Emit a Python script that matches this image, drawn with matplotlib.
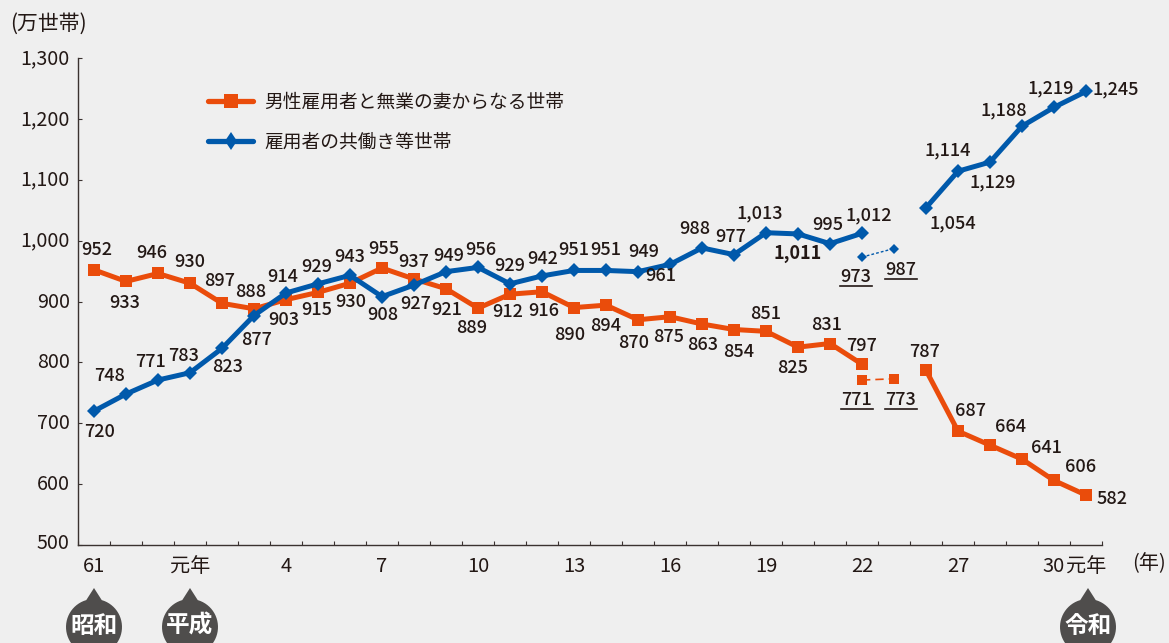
import matplotlib
matplotlib.use("Agg")
import numpy as np
import matplotlib.pyplot as plt
from matplotlib.lines import Line2D
from matplotlib.patches import PathPatch
from matplotlib.path import Path
from matplotlib.transforms import ScaledTranslation

plt.rcParams['font.family'] = ['Noto Sans CJK JP', 'DejaVu Sans']

W, H = 1169, 643
BG = '#efefef'; ORANGE = '#ea4c0b'; BLUE = '#0059ab'; INK = '#231815'

# Data: index = position on the (broken) year axis
male_x1 = list(range(0, 25))
male_v1 = [952,933,946,930,897,888,903,915,930,955,937,921,889,912,916,890,894,870,875,863,854,851,825,831,797]
male_x2 = [24, 25]
male_v2 = [771, 773]
male_x3 = [26, 27, 28, 29, 30, 31]
male_v3 = [787, 687, 664, 641, 606, 582]

dual_x1 = list(range(0, 25))
dual_v1 = [720,748,771,783,823,877,914,929,943,908,927,949,956,929,942,951,951,949,961,988,977,1013,1011,995,1012]
dual_x2 = [24, 25]
dual_v2 = [973, 987]
dual_x3 = [26, 27, 28, 29, 30, 31]
dual_v3 = [1054, 1114, 1129, 1188, 1219, 1245]

tick_pos = [0, 3, 6, 9, 12, 15, 18, 21, 24, 27, 30, 31]
tick_labels = ['61', '元年', '4', '7', '10', '13', '16', '19', '22', '27', '30', '元年']
y_ticks = [500, 600, 700, 800, 900, 1000, 1100, 1200, 1300]

# Label offsets in pixels (dx, dy; dy downward)
male_o1 = [(3,-20),(-1,22),(-6,-20),(0,-21),(-2,-22),(-3,-17),(-2,20),(-1,18),(1,19),(2,-19),(0,-17),(1,21),(-6,20),
           (-2,18),(2,19),(-4,27),(0,21),(-4,23),(-1,20),(1,21),(5,22),(0,-17),(-5,21),(-3,-19),(0,-18)]
male_o2 = [(-5,20),(7,21)]
male_o3 = [(-1,-18),(12,-20),(21,-18),(24,-11),(27,-13),(26,4)]
dual_o1 = [(6,21),(-16,-18),(-8,-18),(-6,-17),(6,19),(3,24),(-3,-16),(-1,-17),(0,-18),(1,18),(2,19),(3,-16),(3,-17),
           (0,-18),(1,-17),(0,-20),(0,-20),(6,-20),(-9,12),(-7,-19),(-3,-18),(-6,-19),(0,20),(-2,-19),(7,-18)]
dual_o2 = [(-6,20),(7,21)]
dual_o3 = [(27,16),(-10,-21),(3,20),(-18,-16),(-3,-19),(30,-2)]

fig = plt.figure(figsize=(W/100, H/100), dpi=100, facecolor=BG)
L, R, T, B = 78, 1102, 58, 545
ax = fig.add_axes([L/W, 1-B/H, (R-L)/W, (B-T)/H], facecolor='none')
ax.set_xlim(-0.5, 31.5)
ax.set_ylim(500, 1300)
for s in ('top', 'right'):
    ax.spines[s].set_visible(False)
for s in ('left', 'bottom'):
    ax.spines[s].set_color('#3a3230'); ax.spines[s].set_linewidth(1.0)

ax.set_xticks(np.arange(-0.5, 32, 1))
ax.set_xticklabels([])
ax.tick_params(axis='x', which='major', direction='in', length=3, width=0.8, color='#3a3230')
ax.set_xticks(tick_pos, minor=True)
ax.set_xticklabels(tick_labels, minor=True)
ax.tick_params(axis='x', which='minor', length=0, pad=8, labelsize=14.5, labelcolor=INK)
ax.set_yticks(y_ticks)
ax.set_yticklabels([f'{v:,}' for v in y_ticks])
ax.tick_params(axis='y', direction='in', length=3, width=0.8, color='#3a3230', pad=6, labelsize=14.2, labelcolor=INK)
ax.patch.set_alpha(0)
for v, lab in zip(y_ticks, ax.get_yticklabels()):
    shift = 4 if v == 500 else 2
    lab.set_transform(lab.get_transform() + ScaledTranslation(0, shift/100, fig.dpi_scale_trans))

for x, v in ((male_x1, male_v1), (male_x3, male_v3)):
    ax.plot(x, v, color=ORANGE, lw=3.6, marker='s', ms=9, mew=0, solid_joinstyle='miter', clip_on=False, zorder=3)
ax.plot(male_x2, male_v2, color=ORANGE, lw=1.2, ls=(0, (5, 3)), marker='s', ms=6.5, mew=0, zorder=3)
for x, v in ((dual_x1, dual_v1), (dual_x3, dual_v3)):
    ax.plot(x, v, color=BLUE, lw=3.6, marker='D', ms=6.8, mew=0, clip_on=False, zorder=4)
ax.plot(dual_x2, dual_v2, color=BLUE, lw=1.0, ls=(0, (2, 1.5)), marker='D', ms=5, mew=0, zorder=4)

handles = [Line2D([], [], color=ORANGE, lw=3.8, marker='s', ms=10, mew=0, solid_capstyle='round'),
           Line2D([], [], color=BLUE, lw=3.8, marker='d', ms=9.5, mew=0, solid_capstyle='round')]
ax.legend(handles, ['男性雇用者と無業の妻からなる世帯', '雇用者の共働き等世帯'],
          loc='upper left', bbox_to_anchor=((208-L)/(R-L), 1-(92-T)/(B-T)),
          frameon=False, fontsize=13.5, handlelength=2.4, handletextpad=0.6, labelspacing=1.0,
          borderpad=0, borderaxespad=0, labelcolor=INK)

def put(xs, vs, offs, underline=False, bold=None):
    for x, v, (dx, dy) in zip(xs, vs, offs):
        w = 'bold' if bold is not None and v == bold else 500
        ax.annotate(f'{v:,}', (x, v), xytext=(dx*0.72, -dy*0.72), textcoords='offset points',
                    ha='center', va='center', fontsize=13, color=INK, fontweight=w, zorder=6)
        if underline:
            px, py = ax.transData.transform((x, v))
            ox = px + dx; oy = py - dy - 9
            ax.plot([ox - 16, ox + 16], [oy, oy], transform=None, color=INK, lw=1.2, zorder=6, clip_on=False)

put(male_x1, male_v1, male_o1)
put(male_x2, male_v2, male_o2, underline=True)
put(male_x3, male_v3, male_o3)
put(dual_x1, dual_v1, dual_o1, bold=1011)
put(dual_x2, dual_v2, dual_o2, underline=True)
put(dual_x3, dual_v3, dual_o3)

# Overlay in pixel coordinates for units and era badges
ov = fig.add_axes([0, 0, 1, 1], facecolor='none')
ov.set_xlim(0, W); ov.set_ylim(H, 0); ov.axis('off')
ov.text(48, 24, '(万世帯)', ha='center', va='center', fontsize=15, color=INK)
ov.text(1149, 564, '(年)', ha='center', va='center', fontsize=14.5, color=INK)

def badge(cx, text, tip=588, cy=627, r=28):
    t = np.linspace(np.pi*0.5 + 0.28, np.pi*2.5 - 0.28, 60)
    verts = [(cx, tip)] + [(cx + r*np.cos(a), cy - r*np.sin(a)) for a in t] + [(cx, tip)]
    codes = [Path.MOVETO] + [Path.LINETO]*(len(verts)-1)
    ov.add_patch(PathPatch(Path(verts, codes), fc='#4f4d4c', ec='none'))
    ov.text(cx, 626, text, ha='center', va='center', fontsize=17, color='white', fontweight='bold')

for cx, s in ((94, '昭和'), (190, '平成'), (1088, '令和')):
    badge(cx, s)

fig.savefig('out.png', dpi=100, facecolor=BG)
